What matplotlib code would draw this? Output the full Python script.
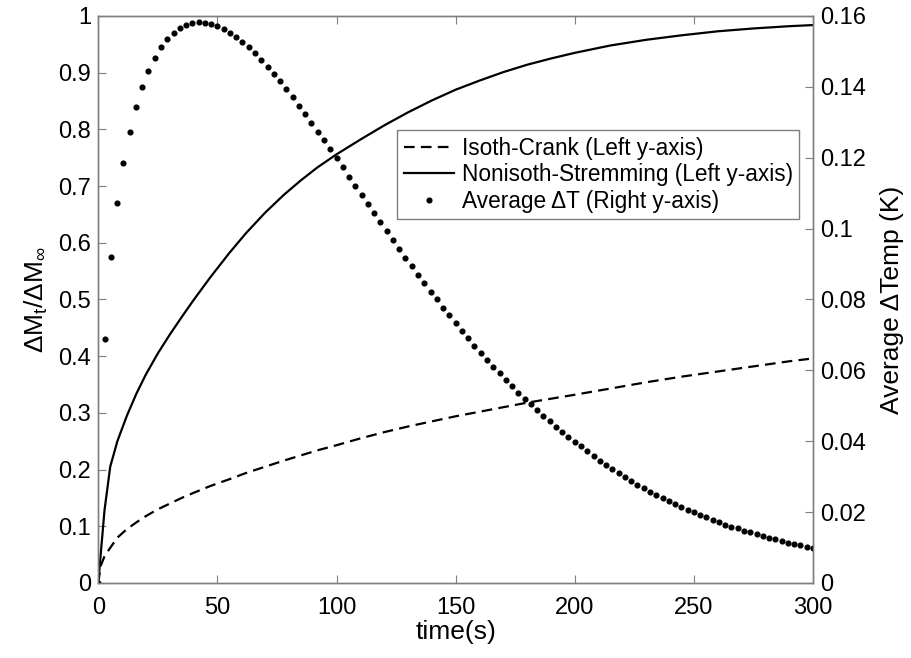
import numpy as np
import matplotlib
matplotlib.use('Agg')
import matplotlib.pyplot as plt

plt.rcParams['font.family'] = ['Liberation Sans', 'DejaVu Sans']
plt.rcParams['mathtext.fontset'] = 'custom'
plt.rcParams['mathtext.rm'] = 'Liberation Sans'
plt.rcParams['mathtext.it'] = 'Liberation Sans:italic'

# ----- data -----
# time samples used for the two uptake curves (s)
t_curve = [0, 1, 2.6, 5, 8, 12, 16, 20, 25, 30, 35, 40, 47, 55, 62, 70, 78, 85,
           92, 100, 110, 120, 130, 140, 150, 160, 170, 180, 190, 200, 215, 230,
           245, 260, 275, 290, 300]

# Isoth-Crank, left axis
isoth_crank = [0, 0.030, 0.047, 0.062, 0.080, 0.095, 0.107, 0.118, 0.130, 0.140,
               0.150, 0.159, 0.171, 0.183, 0.194, 0.205, 0.216, 0.225, 0.234,
               0.243, 0.255, 0.266, 0.276, 0.285, 0.294, 0.302, 0.310, 0.318,
               0.325, 0.332, 0.343, 0.354, 0.364, 0.373, 0.382, 0.391, 0.396]

# Nonisoth-Stremming, left axis
nonisoth = [0, 0.050, 0.128, 0.205, 0.250, 0.295, 0.334, 0.368, 0.405, 0.438,
            0.469, 0.499, 0.539, 0.582, 0.617, 0.653, 0.685, 0.710, 0.733,
            0.756, 0.782, 0.807, 0.830, 0.851, 0.870, 0.886, 0.901, 0.914,
            0.925, 0.935, 0.948, 0.958, 0.966, 0.973, 0.978, 0.982, 0.984]

# Average dT (K), right axis, one value per sample, 0..300 s
avg_dT = [0.0, 0.0689, 0.0920, 0.1071, 0.1186, 0.1274, 0.1344, 0.1399, 0.1446,
          0.1481, 0.1512, 0.1534, 0.1552, 0.1565, 0.1575, 0.1580, 0.1582,
          0.1581, 0.1577, 0.1571, 0.1562, 0.1552, 0.1541, 0.1526, 0.1512,
          0.1495, 0.1476, 0.1457, 0.1437, 0.1417, 0.1394, 0.1370, 0.1347,
          0.1323, 0.1299, 0.1274, 0.1249, 0.1224, 0.1200, 0.1173, 0.1147,
          0.1121, 0.1096, 0.1069, 0.1044, 0.1019, 0.0993, 0.0968, 0.0942,
          0.0918, 0.0895, 0.0870, 0.0847, 0.0822, 0.0800, 0.0777, 0.0755,
          0.0733, 0.0711, 0.0690, 0.0669, 0.0650, 0.0629, 0.0610, 0.0592,
          0.0574, 0.0556, 0.0537, 0.0519, 0.0504, 0.0487, 0.0471, 0.0456,
          0.0441, 0.0426, 0.0412, 0.0399, 0.0387, 0.0372, 0.0358, 0.0345,
          0.0333, 0.0321, 0.0309, 0.0298, 0.0287, 0.0277, 0.0267, 0.0257,
          0.0248, 0.0239, 0.0230, 0.0222, 0.0214, 0.0206, 0.0200, 0.0193,
          0.0186, 0.0179, 0.0172, 0.0165, 0.0159, 0.0154, 0.0148, 0.0143,
          0.0138, 0.0133, 0.0128, 0.0123, 0.0119, 0.0114, 0.0110, 0.0106,
          0.0102, 0.0100]
t_dots = np.linspace(0, 300, len(avg_dT))

x_ticks = [0, 50, 100, 150, 200, 250, 300]
left_ticks = [0, 0.1, 0.2, 0.3, 0.4, 0.5, 0.6, 0.7, 0.8, 0.9, 1]
left_labels = ['0', '0.1', '0.2', '0.3', '0.4', '0.5', '0.6', '0.7', '0.8', '0.9', '1']
right_ticks = [0, 0.02, 0.04, 0.06, 0.08, 0.1, 0.12, 0.14, 0.16]
right_labels = ['0', '0.02', '0.04', '0.06', '0.08', '0.1', '0.12', '0.14', '0.16']

# ----- figure -----
fig = plt.figure(figsize=(9.11, 6.58), dpi=100)
ax = fig.add_axes([0.1079, 0.114, 0.7845, 0.8617])
ax2 = ax.twinx()

frame_col = '#7f7f7f'
tick_fs = 17

l1, = ax.plot(t_curve, isoth_crank, color='k', lw=1.6, ls=(0, (4.8, 2.8)),
              label='Isoth-Crank (Left y-axis)')
l2, = ax.plot(t_curve, nonisoth, color='k', lw=1.6,
              label='Nonisoth-Stremming (Left y-axis)')
l3, = ax2.plot(t_dots, avg_dT, ls='none', marker='o', ms=3.4, color='k',
               label='Average ΔT (Right y-axis)')

ax.set_xlim(0, 300)
ax.set_ylim(0, 1)
ax2.set_ylim(0, 0.16)
ax.set_xticks(x_ticks)
ax.set_xticklabels([str(v) for v in x_ticks])
ax.set_yticks(left_ticks)
ax.set_yticklabels(left_labels)
ax2.set_yticks(right_ticks)
ax2.set_yticklabels(right_labels)

ax.tick_params(axis='x', direction='in', top=True, length=6, width=0.8,
               color=frame_col, labelsize=tick_fs, pad=10)
ax.tick_params(axis='y', direction='in', length=6, width=0.8,
               color=frame_col, labelsize=tick_fs, pad=5)
ax2.tick_params(axis='y', direction='in', length=6, width=0.8,
                color=frame_col, labelsize=tick_fs, pad=5)
for a in (ax, ax2):
    for s in a.spines.values():
        s.set_color(frame_col)
        s.set_linewidth(1.0)

ax.set_xlabel('time(s)', fontsize=19, labelpad=1)
ax.set_ylabel(r'ΔM$_{\mathrm{t}}$/ΔM$_{\infty}$', fontsize=19, labelpad=6)
ax2.set_ylabel('Average ΔTemp (K)', fontsize=19, labelpad=10)

leg = ax2.legend(handles=[l1, l2, l3], loc='upper left',
                 bbox_to_anchor=(0.418, 0.799), borderaxespad=0,
                 fontsize=16.3, fancybox=False, framealpha=1, edgecolor=frame_col,
                 handlelength=2.2, handletextpad=0.35, labelspacing=0.15,
                 borderpad=0.3, numpoints=1)
leg.get_frame().set_linewidth(1.0)

fig.savefig('out.png', dpi=100)
